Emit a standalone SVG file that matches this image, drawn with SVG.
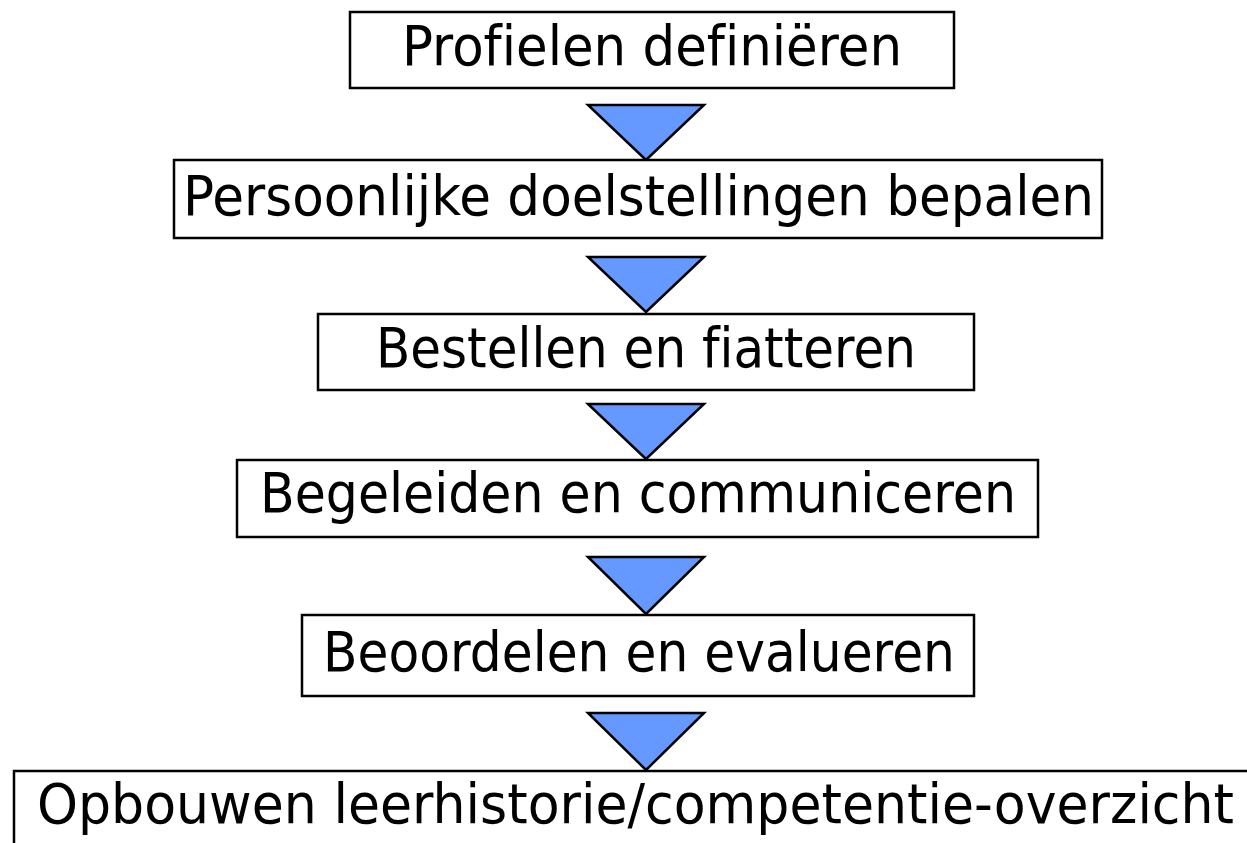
<svg xmlns="http://www.w3.org/2000/svg" width="1247" height="843" viewBox="0 0 1247 843">
<style>
.box{fill:#fff;stroke:#000;stroke-width:2.5}
.lbl{font-family:"DejaVu Sans",Verdana,sans-serif;font-size:55px;fill:#000;font-variant-ligatures:none;font-feature-settings:"liga" 0}
.arr{fill:#6699FF;stroke:#000;stroke-width:2.5;stroke-linejoin:miter}
</style>
<rect width="1247" height="843" fill="#fff"/>
<g id="connectors">
<polygon class="arr" points="588,105 704,105 646,160"/>
<polygon class="arr" points="588,257 704,257 646,312"/>
<polygon class="arr" points="588,404 704,404 646,459"/>
<polygon class="arr" points="588,557 704,557 646,614"/>
<polygon class="arr" points="588,713 704,713 646,770"/>
</g>
<g id="n1"><rect class="box" x="350" y="12" width="604" height="76"/><text class="lbl" x="402" y="65" textLength="500" lengthAdjust="spacingAndGlyphs">Profielen definiëren</text></g>
<g id="n2"><rect class="box" x="174" y="160" width="928" height="78"/><text class="lbl" x="183" y="215" textLength="911" lengthAdjust="spacingAndGlyphs">Persoonlijke doelstellingen bepalen</text></g>
<g id="n3"><rect class="box" x="318" y="314" width="656" height="76"/><text class="lbl" x="376" y="367" textLength="540" lengthAdjust="spacingAndGlyphs">Bestellen en fiatteren</text></g>
<g id="n4"><rect class="box" x="237" y="460" width="801" height="77"/><text class="lbl" x="260" y="512" textLength="756" lengthAdjust="spacingAndGlyphs">Begeleiden en communiceren</text></g>
<g id="n5"><rect class="box" x="302" y="615" width="672" height="81"/><text class="lbl" x="323" y="671" textLength="632" lengthAdjust="spacingAndGlyphs">Beoordelen en evalueren</text></g>
<g id="n6"><rect class="box" x="14" y="771" width="1250" height="90"/><text class="lbl" x="37" y="823" textLength="1197" lengthAdjust="spacingAndGlyphs">Opbouwen leerhistorie/competentie-overzicht</text></g>
</svg>
